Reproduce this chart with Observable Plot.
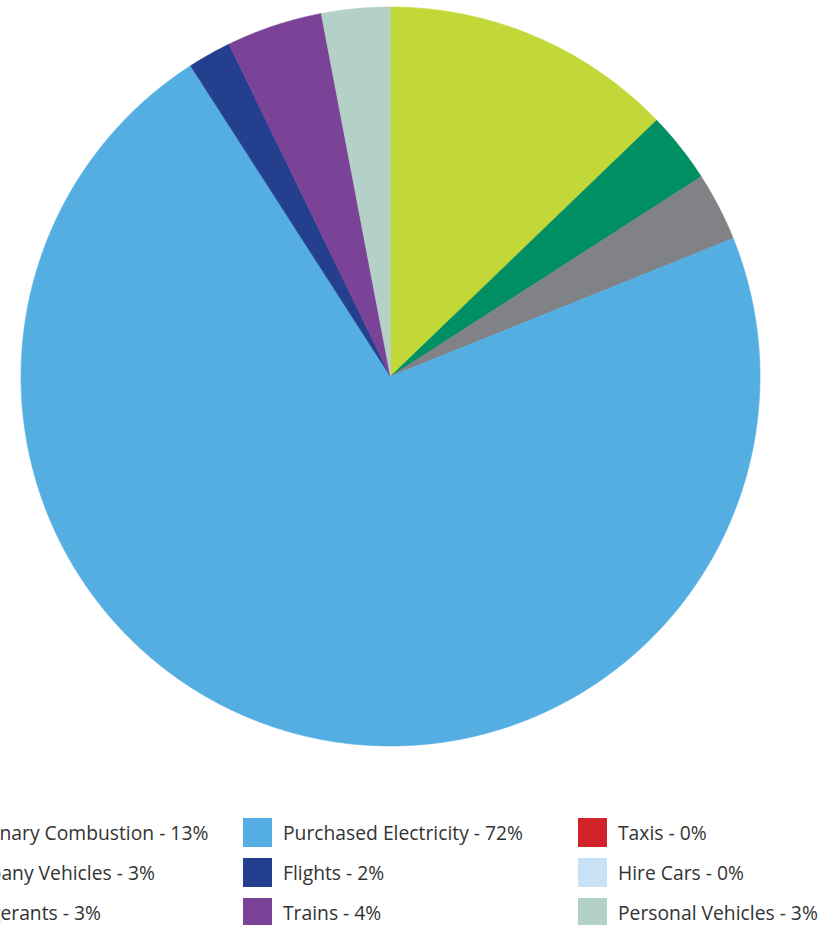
<!DOCTYPE html>
<html>
<head>
<meta charset="utf-8">
<script src="https://cdn.jsdelivr.net/npm/d3@7"></script>
<script src="https://cdn.jsdelivr.net/npm/@observablehq/plot@0.6"></script>
<style>
  html, body { margin: 0; padding: 0; background: #fff; overflow: hidden; }
  #wrap { position: relative; width: 834px; height: 925px; }
  #legend {
    position: absolute; top: 818px; left: -92px;
    display: grid; grid-template-columns: 335px 335px 335px;
    grid-auto-flow: column; grid-template-rows: 40px 40px 40px;
    font-family: "Open Sans", sans-serif; font-size: 19.3px; color: #333;
  }
  .item { display: flex; align-items: center; height: 29px; white-space: nowrap; }
  .sw { width: 29px; height: 29px; margin-right: 11px; flex: none; }
</style>
</head>
<body>
<div id="wrap">
  <div id="chart"></div>
  <div id="legend"></div>
</div>
<script>
// Slices in clockwise order from 12 o'clock
const categories = ["Stationary Combustion", "Company Vehicles", "Refrigerants", "Purchased Electricity", "Taxis", "Hire Cars", "Flights", "Trains", "Personal Vehicles"];
const values = [12.8, 3.1, 3.0, 72.0, 0, 0, 1.9, 4.2, 3.0];
const colors = ["#c2d838", "#008f62", "#808285", "#55aee2", "#d2232a", "#c9e1f4", "#253f8f", "#7b4397", "#b3d1c6"];
// Legend order (column-major)
const legendOrder = ["Stationary Combustion", "Company Vehicles", "Refrigerants", "Purchased Electricity", "Flights", "Trains", "Taxis", "Hire Cars", "Personal Vehicles"];

const R = 369.5;
const data = categories.map((c, i) => ({category: c, value: values[i], color: colors[i]}));
const arcs = d3.pie().sort(null).value(d => d.value)(data);

const pts = [];
for (const a of arcs) {
  if (a.endAngle - a.startAngle <= 0) continue;
  const n = Math.max(2, Math.ceil((a.endAngle - a.startAngle) / (Math.PI / 720)));
  pts.push({cat: a.data.category, color: a.data.color, x: 0, y: 0});
  for (let k = 0; k <= n; k++) {
    const t = a.startAngle + (a.endAngle - a.startAngle) * k / n;
    pts.push({cat: a.data.category, color: a.data.color, x: R * Math.sin(t), y: -R * Math.cos(t)});
  }
  pts.push({cat: a.data.category, color: a.data.color, x: 0, y: 0});
}

const W = 834, H = 800, cx = 390, cy = 376;
const chart = Plot.plot({
  width: W, height: H,
  margin: 0,
  x: {domain: [-cx, W - cx], range: [0, W], axis: null},
  y: {domain: [-cy, H - cy], range: [0, H], axis: null},
  color: {type: "identity"},
  marks: [
    Plot.line(pts, {x: "x", y: "y", z: "cat", fill: "color", stroke: "color", strokeWidth: 0.6, curve: "linear"})
  ]
});
document.getElementById("chart").appendChild(chart);

const legend = document.getElementById("legend");
for (const name of legendOrder) {
  const i = categories.indexOf(name);
  const el = document.createElement("div");
  el.className = "item";
  const sw = document.createElement("span");
  sw.className = "sw";
  sw.style.background = colors[i];
  const tx = document.createElement("span");
  tx.textContent = `${name} - ${Math.round(values[i])}%`;
  el.appendChild(sw); el.appendChild(tx);
  legend.appendChild(el);
}
</script>
</body>
</html>
